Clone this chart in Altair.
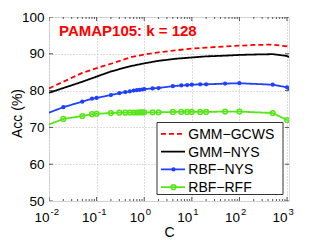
import altair as alt
import pandas as pd

# ---------------- data ----------------
SERIES = ["GMM−GCWS", "GMM−NYS", "RBF−NYS", "RBF−RFF"]
COLORS = ["#ff0000", "#000000", "#2040ff", "#55e617"]
DASHES = [[5, 3], [1, 0], [1, 0], [1, 0]]

C_GMM = [0.01, 0.02, 0.05, 0.1, 0.2, 0.5, 1, 2, 5, 10, 20, 50, 100, 200, 500, 1000, 1100]
GMM_GCWS = [80.6, 82.4, 84.8, 86.1, 87.3, 89.0, 89.8, 90.4, 91.0, 91.4, 91.7, 92.0, 92.2, 92.4, 92.5, 92.0, 91.6]
GMM_NYS = [79.4, 80.7, 82.4, 83.8, 85.2, 86.6, 87.4, 88.1, 88.7, 89.0, 89.3, 89.5, 89.7, 89.8, 89.9, 89.4, 89.1]

C_RBF = [0.01, 0.02, 0.05, 0.08, 0.1, 0.2, 0.3, 0.4, 0.5, 0.6, 0.7, 0.8, 0.9, 1, 1.5, 2,
         4, 6, 8, 10, 15, 20, 50, 100, 500, 1000, 1100]
RBF_NYS = [74.0, 75.5, 77.0, 77.8, 78.0, 78.8, 79.3, 79.6, 79.8, 80.0, 80.1, 80.2, 80.3, 80.4,
           80.6, 80.7, 81.2, 81.4, 81.5, 81.6, 81.7, 81.7, 81.9, 82.0, 81.6, 80.9, 80.2]
RBF_RFF = [70.8, 72.3, 73.1, 73.6, 73.7, 73.9, 74.0, 74.0, 74.05, 74.05, 74.05, 74.1, 74.1, 74.1,
           74.1, 74.1, 74.2, 74.2, 74.2, 74.2, 74.2, 74.2, 74.3, 74.3, 73.9, 72.0, 71.8]

X_MAJOR = [0.01, 0.1, 1, 10, 100, 1000]
X_EXP = ["-2", "-1", "0", "1", "2", "3"]
X_MINOR = [m * 10.0 ** k for k in range(-2, 3) for m in range(2, 10)]
Y_TICKS = [50, 60, 70, 80, 90, 100]

TITLE = "PAMAP105: k = 128"
FONT = "Liberation Sans"
W, H = 240, 184
FRAME = "#555555"

rows = []
for name, cs, vals in [(SERIES[0], C_GMM, GMM_GCWS), (SERIES[1], C_GMM, GMM_NYS),
                       (SERIES[2], C_RBF, RBF_NYS), (SERIES[3], C_RBF, RBF_RFF)]:
    for c, v in zip(cs, vals):
        rows.append({"series": name, "C": c, "acc": v})
df = pd.DataFrame(rows)

xscale = alt.Scale(type="log", domain=[0.01, 1100], nice=False)
yscale = alt.Scale(domain=[50, 100], nice=False)

x_axis = alt.Axis(values=X_MAJOR, grid=True, gridDash=[1, 2], gridColor="#bbbbbb",
                  labels=False, ticks=False, domain=False, title="C",
                  titleFont=FONT, titleFontSize=14, titleFontWeight="normal",
                  titleBaseline="alphabetic", titleY=35, titleColor="#000")
y_axis = alt.Axis(values=Y_TICKS, grid=True, gridDash=[1, 2], gridColor="#bbbbbb",
                  tickSize=0, domain=False, labelPadding=5, labelFont=FONT,
                  labelFontSize=13.5, labelColor="#000", labelOverlap=False,
                  labelFlush=False, labelBound=False, title="Acc (%)",
                  titleFont=FONT, titleFontSize=14, titleFontWeight="normal",
                  titleAngle=270, titleBaseline="alphabetic", titleX=-27.5, titleY=96,
                  titleAlign="center", titleColor="#000")
XE = alt.X("C:Q", scale=xscale, axis=x_axis)
YE = alt.Y("acc:Q", scale=yscale, axis=y_axis)

base = alt.Chart(df)
lines = base.mark_line(strokeWidth=1.8, clip=True).encode(
    x=XE, y=YE,
    color=alt.Color("series:N", scale=alt.Scale(domain=SERIES, range=COLORS), legend=None),
    strokeDash=alt.StrokeDash("series:N", scale=alt.Scale(domain=SERIES, range=DASHES), legend=None),
    detail="series:N",
)
marker_filter = (alt.datum.C > 0.011) & (alt.datum.C < 1050)
pts_nys = base.transform_filter(alt.datum.series == SERIES[2]).transform_filter(marker_filter).mark_point(
    shape="circle", filled=True, size=18, color=COLORS[2], opacity=1, clip=True
).encode(x=XE, y=YE)
pts_rff = base.transform_filter(alt.datum.series == SERIES[3]).transform_filter(marker_filter).mark_point(
    shape="circle", filled=False, size=22, strokeWidth=1.5, color=COLORS[3], opacity=1, clip=True
).encode(x=XE, y=YE)

# ticks inside the frame
xmaj = pd.DataFrame({"C": X_MAJOR})
xmin = pd.DataFrame({"C": X_MINOR})
ytk = pd.DataFrame({"acc": Y_TICKS})
tick_layers = []
for yv in [H, 0]:
    tick_layers.append(alt.Chart(xmaj).mark_tick(size=8, thickness=1, color=FRAME, clip=True, opacity=1)
                       .encode(x=XE, y=alt.value(yv)))
    tick_layers.append(alt.Chart(xmin).mark_tick(size=4, thickness=1, color=FRAME, clip=True, opacity=1)
                       .encode(x=XE, y=alt.value(yv)))
for xv in [0, W]:
    tick_layers.append(alt.Chart(ytk).mark_tick(size=8, thickness=1, color=FRAME, clip=True, opacity=1)
                       .encode(y=YE, x=alt.value(xv)))

# x tick labels 10^k
xlab = pd.DataFrame({"C": X_MAJOR, "exp": X_EXP, "base": ["10"] * len(X_MAJOR)})
lab_base = alt.Chart(xlab).mark_text(font=FONT, fontSize=13.5, align="right", baseline="alphabetic",
                                     dx=0.5, dy=20.7, color="#000").encode(
    x=XE, y=alt.value(H), text="base:N")
lab_exp = alt.Chart(xlab).mark_text(font=FONT, fontSize=9.5, align="left", baseline="alphabetic",
                                    dx=1.5, dy=14, color="#000").encode(
    x=XE, y=alt.value(H), text="exp:N")

# title annotation
title = alt.Chart(pd.DataFrame({"t": [TITLE]})).mark_text(
    font=FONT, fontSize=15, fontWeight="bold", color="#ff0000", align="left", baseline="alphabetic"
).encode(x=alt.value(10), y=alt.value(18.6), text="t:N")

# legend
LX0, LX1, LY0, LY1 = 108, 234, 105.5, 177.5
ROW_Y = [116.8, 134.6, 152.4, 170.2]
leg_layers = [alt.Chart(pd.DataFrame({"a": [0]})).mark_rect(fill="white", stroke="#333333", strokeWidth=1).encode(
    x=alt.value(LX0), x2=alt.value(LX1), y=alt.value(LY0), y2=alt.value(LY1))]
for i, name in enumerate(SERIES):
    d = pd.DataFrame({"name": [name]})
    leg_layers.append(alt.Chart(d).mark_rule(color=COLORS[i], strokeWidth=1.8, strokeDash=DASHES[i]).encode(
        x=alt.value(112), x2=alt.value(136), y=alt.value(ROW_Y[i])))
    if i == 2:
        leg_layers.append(alt.Chart(d).mark_point(shape="circle", filled=True, size=18, color=COLORS[i], opacity=1)
                          .encode(x=alt.value(124.5), y=alt.value(ROW_Y[i])))
    if i == 3:
        leg_layers.append(alt.Chart(d).mark_point(shape="circle", filled=False, size=22, strokeWidth=1.5,
                                                  color=COLORS[i], opacity=1)
                          .encode(x=alt.value(124.5), y=alt.value(ROW_Y[i])))
    leg_layers.append(alt.Chart(d).mark_text(font=FONT, fontSize=14, align="left", baseline="alphabetic",
                                             color="#000").encode(
        x=alt.value(139.3), y=alt.value(ROW_Y[i] + 5), text="name:N"))

chart = alt.layer(lines, pts_nys, pts_rff, *tick_layers, lab_base, lab_exp, title, *leg_layers).properties(
    width=W, height=H,
    autosize=alt.AutoSizeParams(type="none"),
    padding={"left": 41, "top": 9, "right": 22, "bottom": 39},
).configure_view(stroke=FRAME, strokeWidth=1).configure_axis(labelOverlap=False).configure(background="white")

chart.save("out.html", embed_options={"renderer": "svg", "actions": False})
